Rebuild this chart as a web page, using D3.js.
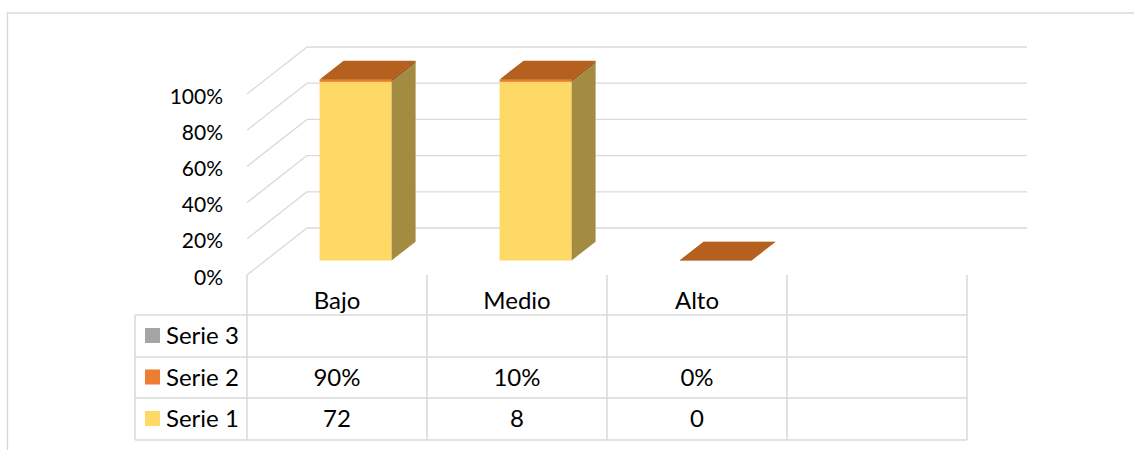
<!DOCTYPE html>
<html>
<head>
<meta charset="utf-8">
<script src="https://cdn.jsdelivr.net/npm/d3@7"></script>
<style>
  html, body { margin: 0; padding: 0; background: #fff; }
  svg { display: block; }
  text { font-family: Lato, "Open Sans", "Noto Sans", sans-serif; fill: #000; }
</style>
</head>
<body>
<svg id="chart" width="1134" height="450"></svg>
<script>
// ---- data ----
const categories = ["Bajo", "Medio", "Alto", ""];
const serie1 = [72, 8, 0, null];
const serie2 = [0.9, 0.1, 0, null];
const serie3 = [null, null, null, null];
const seriesNames = ["Serie 1", "Serie 2", "Serie 3"];
const yTicks = [0, 0.2, 0.4, 0.6, 0.8, 1];

// ---- styles ----
const colors = {
  s1: { front: "#FFD966", side: "#A38C42", top: "#CCAE52" },
  s2: { front: "#ED7D31", side: "#9E5422", top: "#B5601F" }
};
const legendColors = ["#FFD966", "#ED7D31", "#A5A5A5"];
const gridColor = "#D9D9D9";

const svg = d3.select("#chart");

// outer frame
svg.append("path")
  .attr("d", "M7.5,450 L7.5,13 L1134,13")
  .attr("fill", "none").attr("stroke", gridColor).attr("stroke-width", 1.4);

// ---- scales ----
const x = d3.scaleBand().domain(d3.range(categories.length)).range([247, 967]).padding(0);
const y = d3.scaleLinear().domain([0, 1]).range([275, 94]);
const DX = 60, DY = -47;          // full floor depth offset (oblique projection)
const d0 = 0.31, d1 = 0.71;        // bar depth range
const barFrac = 0.4;               // bar width as fraction of column

// ---- walls / gridlines ----
const grid = svg.append("g");
yTicks.forEach(t => {
  grid.append("line")
    .attr("x1", x.range()[0]).attr("y1", y(t))
    .attr("x2", x.range()[0] + DX).attr("y2", y(t) + DY)
    .attr("stroke", gridColor).attr("stroke-width", 1.3);
  grid.append("line")
    .attr("x1", x.range()[0] + DX).attr("y1", y(t) + DY)
    .attr("x2", x.range()[1] + DX).attr("y2", y(t) + DY)
    .attr("stroke", gridColor).attr("stroke-width", 1.3);
});

// y-axis labels
const fmtPct = d3.format(".0%");
svg.append("g").selectAll("text").data(yTicks).join("text")
  .attr("x", 223).attr("y", d => y(d) + 2)
  .attr("dy", "0.36em")
  .attr("text-anchor", "end")
  .attr("font-size", 21)
  .text(d => fmtPct(d));

// ---- stacked 100% 3D bars ----
const rows = categories.map((c, i) => ({ i, s1: serie1[i] || 0, s2: serie2[i] || 0, has: serie1[i] != null || serie2[i] != null }));
const stack = d3.stack().keys(["s1", "s2"]).offset(d3.stackOffsetExpand);
const stacked = stack(rows);

const bars = svg.append("g");
rows.forEach((r, j) => {
  if (!r.has) return;
  const bw = x.bandwidth() * barFrac;
  const xa = x(r.i) + (x.bandwidth() - bw) / 2;
  const xb = xa + bw;
  stacked.forEach(s => {
    const [v0, v1] = s[j];
    const c = colors[s.key];
    const ya = y(v0), yb = y(v1);
    const P = (px, py, d) => [px + d * DX, py + d * DY];
    const front = [P(xa, yb, d0), P(xb, yb, d0), P(xb, ya, d0), P(xa, ya, d0)];
    const side = [P(xb, yb, d0), P(xb, yb, d1), P(xb, ya, d1), P(xb, ya, d0)];
    const top = [P(xa, yb, d0), P(xb, yb, d0), P(xb, yb, d1), P(xa, yb, d1)];
    if (yb < ya) {
      bars.append("polygon").attr("points", front.join(" ")).attr("fill", c.front);
      bars.append("polygon").attr("points", side.join(" ")).attr("fill", c.side);
    }
    bars.append("polygon").attr("points", top.join(" ")).attr("fill", c.top);
  });
});

// ---- data table ----
const tbl = svg.append("g");
const tableTop = 275, headerBottom = 315;
const rowLines = [315, 357, 398, 440];
const legendLeft = 135;
const colEdges = x.domain().map(i => x(i)).concat([x.range()[1]]);

colEdges.forEach(cx => {
  tbl.append("line").attr("x1", cx).attr("x2", cx)
    .attr("y1", tableTop).attr("y2", rowLines[rowLines.length - 1])
    .attr("stroke", gridColor).attr("stroke-width", 1.5);
});
tbl.append("line").attr("x1", legendLeft).attr("x2", legendLeft)
  .attr("y1", rowLines[0]).attr("y2", rowLines[rowLines.length - 1])
  .attr("stroke", gridColor).attr("stroke-width", 1.5);
rowLines.forEach(ry => {
  tbl.append("line").attr("x1", legendLeft).attr("x2", x.range()[1])
    .attr("y1", ry).attr("y2", ry)
    .attr("stroke", gridColor).attr("stroke-width", 1.5);
});

tbl.selectAll("text.cat").data(categories).join("text")
  .attr("class", "cat")
  .attr("x", (d, i) => x(i) + x.bandwidth() / 2)
  .attr("y", headerBottom - 6)
  .attr("text-anchor", "middle")
  .attr("font-size", 24)
  .text(d => d);

const tableRows = [
  { name: seriesNames[2], color: legendColors[2], vals: serie3, fmt: v => v == null ? "" : v },
  { name: seriesNames[1], color: legendColors[1], vals: serie2, fmt: v => v == null ? "" : fmtPct(v) },
  { name: seriesNames[0], color: legendColors[0], vals: serie1, fmt: v => v == null ? "" : d3.format("d")(v) }
];
tableRows.forEach((row, k) => {
  const cy = (rowLines[k] + rowLines[k + 1]) / 2;
  tbl.append("rect").attr("x", 145).attr("y", cy - 8).attr("width", 15).attr("height", 15).attr("fill", row.color);
  tbl.append("text").attr("x", 166).attr("y", cy + 8).attr("font-size", 24).text(row.name);
  row.vals.forEach((v, i) => {
    tbl.append("text")
      .attr("x", x(i) + x.bandwidth() / 2).attr("y", cy + 8)
      .attr("text-anchor", "middle").attr("font-size", 24)
      .text(row.fmt(v));
  });
});
</script>
</body>
</html>
